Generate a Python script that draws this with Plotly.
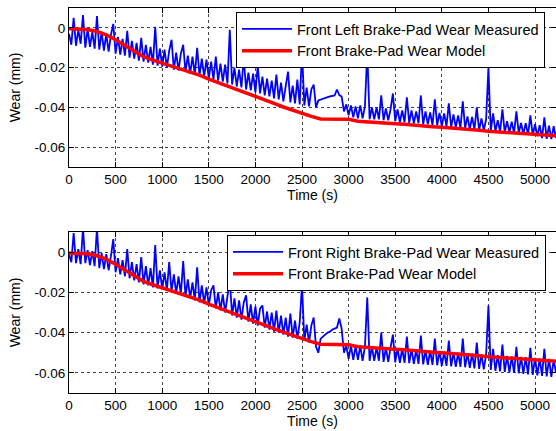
import plotly.graph_objects as go

# sample times (s) of the measured signals
time_s = list(range(0, 5250, 25))

front_left_measured = [
    -0.0030, -0.0085, 0.0050, -0.0090, -0.0010, -0.0080, 0.0065, -0.0100,
    -0.0005, -0.0095, -0.0020, -0.0105, 0.0060, -0.0110, -0.0020, -0.0115,
    -0.0030, -0.0120, -0.0035, 0.0020, -0.0130, -0.0045, -0.0135, -0.0055,
    -0.0140, -0.0015, -0.0150, -0.0065, -0.0155, -0.0075, -0.0165, -0.0050,
    -0.0170, -0.0085, -0.0175, -0.0095, -0.0185, 0.0005, -0.0190, -0.0105,
    -0.0195, -0.0110, -0.0200, -0.0115, -0.0060, -0.0210, -0.0125, -0.0215,
    -0.0130, -0.0085, -0.0220, -0.0140, -0.0230, -0.0145, -0.0235, -0.0100,
    -0.0240, -0.0155, -0.0245, -0.0160, -0.0255, -0.0170, -0.0260, -0.0145,
    -0.0265, -0.0180, -0.0270, -0.0185, -0.0280, -0.0010, -0.0285, -0.0200,
    -0.0295, -0.0210, -0.0300, -0.0150, -0.0310, -0.0225, -0.0315, -0.0230,
    -0.0325, -0.0190, -0.0330, -0.0245, -0.0340, -0.0255, -0.0345, -0.0265,
    -0.0355, -0.0235, -0.0360, -0.0275, -0.0370, -0.0285, -0.0220, -0.0375,
    -0.0290, -0.0380, -0.0260, -0.0385, -0.0120, -0.0390, -0.0300, -0.0395,
    -0.0310, -0.0285, -0.0400, -0.0365, -0.0360, -0.0355, -0.0352, -0.0348,
    -0.0345, -0.0342, -0.0340, -0.0310, -0.0338, -0.0345, -0.0420, -0.0385,
    -0.0440, -0.0390, -0.0450, -0.0395, -0.0455, -0.0390, -0.0455, -0.0395,
    -0.0120, -0.0460, -0.0400, -0.0460, -0.0400, -0.0460, -0.0340, -0.0465,
    -0.0405, -0.0465, -0.0410, -0.0330, -0.0470, -0.0410, -0.0475, -0.0415,
    -0.0475, -0.0350, -0.0478, -0.0415, -0.0480, -0.0420, -0.0480, -0.0340,
    -0.0485, -0.0420, -0.0485, -0.0425, -0.0490, -0.0360, -0.0490, -0.0428,
    -0.0495, -0.0430, -0.0495, -0.0380, -0.0500, -0.0435, -0.0500, -0.0440,
    -0.0505, -0.0370, -0.0505, -0.0445, -0.0510, -0.0448, -0.0510, -0.0400,
    -0.0515, -0.0455, -0.0515, -0.0460, -0.0200, -0.0520, -0.0430, -0.0520,
    -0.0465, -0.0522, -0.0410, -0.0525, -0.0470, -0.0525, -0.0472, -0.0530,
    -0.0420, -0.0530, -0.0478, -0.0535, -0.0480, -0.0538, -0.0440, -0.0540,
    -0.0485, -0.0545, -0.0490, -0.0555, -0.0450, -0.0558, -0.0492, -0.0560,
    -0.0495, -0.0555,
]

front_right_measured = [
    -0.0010, -0.0050, 0.0095, -0.0055, 0.0015, -0.0060, 0.0120, -0.0055,
    0.0010, -0.0065, 0.0005, -0.0070, 0.0120, -0.0080, -0.0005, -0.0085,
    -0.0010, -0.0090, -0.0020, 0.0065, -0.0100, -0.0030, -0.0110, -0.0040,
    -0.0120, 0.0015, -0.0130, -0.0050, -0.0140, -0.0060, -0.0150, -0.0025,
    -0.0160, -0.0070, -0.0165, -0.0080, -0.0175, 0.0035, -0.0180, -0.0090,
    -0.0185, -0.0100, -0.0190, -0.0050, -0.0195, -0.0110, -0.0205, -0.0120,
    -0.0210, -0.0045, -0.0220, -0.0135, -0.0230, -0.0150, -0.0240, -0.0075,
    -0.0250, -0.0165, -0.0255, -0.0175, -0.0265, -0.0190, -0.0165, -0.0280,
    -0.0200, -0.0290, -0.0210, -0.0300, -0.0220, -0.0140, -0.0315, -0.0230,
    -0.0325, -0.0240, -0.0335, -0.0250, -0.0215, -0.0345, -0.0260, -0.0355,
    -0.0270, -0.0365, -0.0280, -0.0265, -0.0375, -0.0295, -0.0385, -0.0300,
    -0.0395, -0.0290, -0.0400, -0.0315, -0.0410, -0.0325, -0.0420, -0.0305,
    -0.0425, -0.0340, -0.0430, -0.0350, -0.0165, -0.0440, -0.0360, -0.0450,
    -0.0365, -0.0325, -0.0470, -0.0500, -0.0430, -0.0420, -0.0410, -0.0400,
    -0.0395, -0.0385, -0.0380, -0.0375, -0.0330, -0.0380, -0.0500, -0.0465,
    -0.0530, -0.0465, -0.0535, -0.0468, -0.0535, -0.0465, -0.0540, -0.0470,
    -0.0225, -0.0540, -0.0470, -0.0540, -0.0472, -0.0540, -0.0400, -0.0545,
    -0.0475, -0.0545, -0.0475, -0.0410, -0.0548, -0.0478, -0.0550, -0.0480,
    -0.0550, -0.0420, -0.0552, -0.0482, -0.0555, -0.0485, -0.0555, -0.0415,
    -0.0558, -0.0488, -0.0560, -0.0490, -0.0560, -0.0430, -0.0562, -0.0492,
    -0.0565, -0.0495, -0.0565, -0.0440, -0.0568, -0.0498, -0.0570, -0.0500,
    -0.0570, -0.0430, -0.0572, -0.0502, -0.0575, -0.0505, -0.0578, -0.0450,
    -0.0580, -0.0508, -0.0582, -0.0510, -0.0265, -0.0585, -0.0480, -0.0590,
    -0.0512, -0.0592, -0.0460, -0.0595, -0.0515, -0.0598, -0.0518, -0.0600,
    -0.0470, -0.0602, -0.0520, -0.0605, -0.0522, -0.0608, -0.0475, -0.0610,
    -0.0525, -0.0612, -0.0528, -0.0615, -0.0480, -0.0618, -0.0530, -0.0620,
    -0.0535, -0.0600,
]

model_time_s = [0, 100, 200, 300, 400, 500, 600, 700, 800, 900, 1000, 1100,
                1200, 1300, 1400, 1500, 1600, 1700, 1800, 1900, 2000, 2100,
                2200, 2300, 2400, 2500, 2600, 2700, 2800, 2900, 3000, 3100,
                3200, 3300, 3400, 3500, 3600, 3700, 3800, 3900, 4000, 4100,
                4200, 4300, 4400, 4500, 4600, 4700, 4800, 4900, 5000, 5100,
                5200, 5250]
model_wear = [-0.0005, -0.0006, -0.0008, -0.0018, -0.0035, -0.0060, -0.0090,
              -0.0120, -0.0145, -0.0162, -0.0177, -0.0190, -0.0205, -0.0220,
              -0.0238, -0.0258, -0.0275, -0.0293, -0.0310, -0.0325, -0.0343,
              -0.0362, -0.0380, -0.0398, -0.0415, -0.0430, -0.0445, -0.0458,
              -0.0458, -0.0459, -0.0460, -0.0470, -0.0472, -0.0475, -0.0478,
              -0.0482, -0.0485, -0.0490, -0.0493, -0.0497, -0.0500, -0.0503,
              -0.0507, -0.0510, -0.0515, -0.0520, -0.0523, -0.0527, -0.0530,
              -0.0532, -0.0537, -0.0540, -0.0542, -0.0543]

x_ticks = [0, 500, 1000, 1500, 2000, 2500, 3000, 3500, 4000, 4500, 5000]
y_ticks = [-0.06, -0.04, -0.02, 0]
y_tick_labels = ["-0.06", "-0.04", "-0.02", "0"]

FONT = "Liberation Sans, Arial, sans-serif"
BLUE = "#0000FF"
RED = "#FF0000"

fig = go.Figure()
fig.add_trace(go.Scatter(x=time_s, y=front_left_measured, mode="lines",
                         line=dict(color=BLUE, width=1.8),
                         name="Front Left Brake-Pad Wear Measured",
                         xaxis="x", yaxis="y", legend="legend"))
fig.add_trace(go.Scatter(x=model_time_s, y=model_wear, mode="lines",
                         line=dict(color=RED, width=3.5),
                         name="Front Brake-Pad Wear Model",
                         xaxis="x", yaxis="y", legend="legend"))
fig.add_trace(go.Scatter(x=time_s, y=front_right_measured, mode="lines",
                         line=dict(color=BLUE, width=1.8),
                         name="Front Right Brake-Pad Wear Measured",
                         xaxis="x2", yaxis="y2", legend="legend2"))
fig.add_trace(go.Scatter(x=model_time_s, y=model_wear, mode="lines",
                         line=dict(color=RED, width=3.5),
                         name="Front Brake-Pad Wear Model",
                         xaxis="x2", yaxis="y2", legend="legend2"))

W, H = 556, 431
xdom = [69 / W, 556 / W]
top_dom = [(H - 167) / H, (H - 8) / H]
bot_dom = [(H - 393) / H, (H - 232) / H]

axis_common = dict(showline=True, linecolor="black", linewidth=1, mirror="ticks",
                   ticks="inside", ticklen=5, tickcolor="black", automargin=False,
                   showgrid=True, gridcolor="#444444", gridwidth=1, griddash="dot",
                   zeroline=False, tickfont=dict(family=FONT, size=13.5, color="black"))

xaxis_common = dict(axis_common, range=[0, 5225], tickvals=x_ticks,
                    ticktext=[str(v) for v in x_ticks],
                    title=dict(text="Time (s)", font=dict(family=FONT, size=14, color="black"),
                               standoff=2))
yaxis_common = dict(axis_common, range=[-0.07, 0.01], tickvals=y_ticks,
                    ticktext=y_tick_labels,
                    title=dict(text="Wear (mm)", font=dict(family=FONT, size=14, color="black"),
                               standoff=10))

legend_common = dict(bgcolor="white", bordercolor="black", borderwidth=1,
                     font=dict(family=FONT, size=14.5, color="black"),
                     xanchor="right", yanchor="top", tracegroupgap=0,
                     itemwidth=50)

fig.update_layout(
    width=W, height=H,
    margin=dict(l=0, r=0, t=0, b=0),
    paper_bgcolor="white", plot_bgcolor="white",
    font=dict(family=FONT, size=13, color="black"),
    xaxis=dict(xaxis_common, domain=xdom, anchor="y"),
    yaxis=dict(yaxis_common, domain=top_dom, anchor="x"),
    xaxis2=dict(xaxis_common, domain=xdom, anchor="y2"),
    yaxis2=dict(yaxis_common, domain=bot_dom, anchor="x2"),
    legend=dict(legend_common, x=545 / W, y=(H - 12) / H),
    legend2=dict(legend_common, x=546 / W, y=(H - 235) / H),
    showlegend=True,
)

fig.write_html("out.html", config={"displayModeBar": False},
               post_script="document.body.style.margin='0';document.body.style.overflow='hidden';")
